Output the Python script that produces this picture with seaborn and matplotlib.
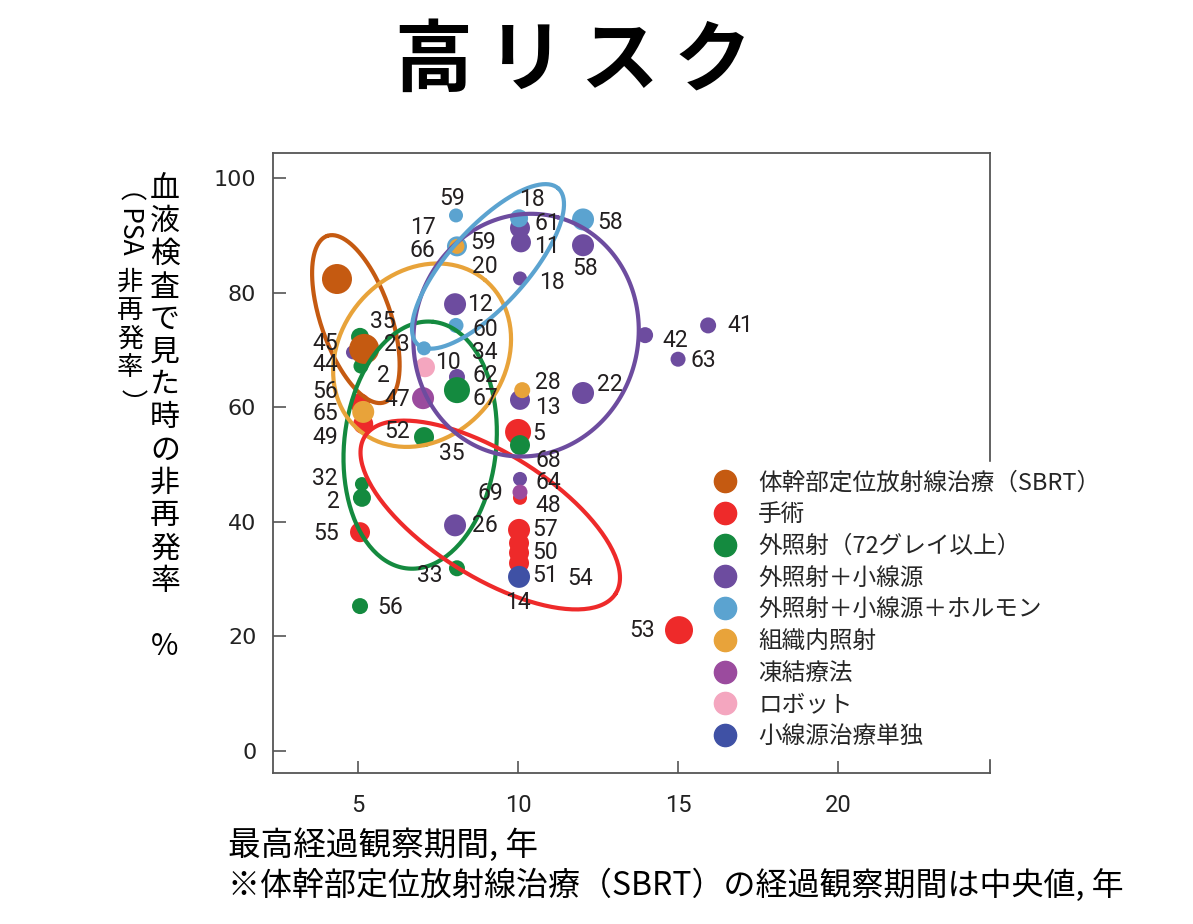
import matplotlib
matplotlib.use("Agg")
import numpy as np
import pandas as pd
import matplotlib.pyplot as plt
import seaborn as sns
from matplotlib.lines import Line2D

# --- data ---
groups = ["体幹部定位放射線治療（SBRT）", "手術", "外照射（72グレイ以上）", "外照射＋小線源",
          "外照射＋小線源＋ホルモン", "組織内照射", "凍結療法", "ロボット", "小線源治療単独"]
group_colors = ["#C55A11", "#EE2A2A", "#148A3F", "#6D4C9F", "#5BA3D0",
                "#E8A33A", "#9B4B9E", "#F4A6BF", "#3F51A5"]

sbrt_x = [4.34, 5.19]
sbrt_y = [82.4, 70.2]
sbrt_dot = [30, 30]

surgery_x = [5.06, 5.16, 5.06, 10.0, 10.06, 10.03, 10.03, 10.03, 10.03, 15.03]
surgery_y = [60.7, 57.1, 38.2, 55.7, 44.2, 38.6, 36.3, 34.6, 32.8, 21.1]
surgery_dot = [20, 20, 20, 26, 14, 22, 20, 20, 20, 28]

ebrt_x = [5.06, 5.09, 8.09, 7.06, 5.12, 5.12, 8.09, 5.06, 10.06]
ebrt_y = [72.3, 67.2, 63.0, 54.8, 46.6, 44.2, 31.9, 25.3, 53.4]
ebrt_dot = [18, 15, 26, 20, 14, 18, 16, 16, 20]

ebrt_bt_x = [4.84, 10.06, 10.09, 12.03, 10.06, 8.03, 8.09, 10.06, 12.03, 13.97, 15.0, 15.94, 8.03, 10.06]
ebrt_bt_y = [69.6, 91.3, 88.8, 88.3, 82.5, 78.0, 65.3, 61.3, 62.5, 72.6, 68.4, 74.3, 39.4, 47.5]
ebrt_bt_dot = [14, 20, 20, 22, 14, 22, 16, 20, 22, 16, 15, 16, 22, 14]

ebrt_bt_adt_x = [8.06, 8.09, 10.03, 12.03, 8.06, 7.06]
ebrt_bt_adt_y = [93.5, 88.1, 93.0, 92.8, 74.3, 70.3]
ebrt_bt_adt_dot = [14, 20, 18, 22, 15, 14]

interstitial_x = [8.09, 5.16, 10.13]
interstitial_y = [88.1, 59.2, 63.0]
interstitial_dot = [15, 22, 16]

cryo_x = [7.03, 10.06]
cryo_y = [61.6, 45.2]
cryo_dot = [22, 15]

robot_x = [7.09]
robot_y = [67.0]
robot_dot = [20]

bt_only_x = [10.03]
bt_only_y = [30.4]
bt_only_dot = [22]

# study numbers written next to the dots
pt_labels = ["59", "17", "66", "59", "20", "18", "61", "11", "58", "58", "18", "12", "60", "34",
             "10", "62", "67", "47", "28", "13", "22", "42", "63", "41", "45", "44", "35", "23",
             "2", "56", "65", "49", "52", "35", "32", "2", "55", "69", "26", "33", "56", "5",
             "68", "64", "48", "57", "50", "51", "54", "14", "53"]
pt_label_x = [7.94, 7.03, 7.0, 8.91, 8.97, 10.44, 10.91, 10.91, 12.88, 12.09, 11.06, 8.81, 8.97, 8.97,
              7.81, 8.97, 8.97, 6.22, 10.94, 10.94, 12.88, 14.91, 15.78, 16.94, 3.97, 3.97, 5.78, 6.22,
              5.78, 3.97, 3.97, 3.97, 6.22, 7.94, 3.97, 4.22, 4.0, 9.13, 8.97, 7.25, 6.0, 10.63,
              10.94, 10.94, 10.94, 10.84, 10.84, 10.84, 11.94, 10.0, 13.88]
pt_label_y = [96.5, 91.4, 87.3, 88.7, 84.6, 96.2, 92.1, 88.0, 92.3, 84.3, 81.8, 78.0, 73.5, 69.6,
              67.9, 65.6, 61.6, 61.3, 64.4, 60.0, 63.9, 71.7, 68.2, 74.3, 71.2, 67.4, 74.9, 70.9,
              65.6, 62.7, 59.0, 54.8, 55.7, 52.0, 47.6, 43.6, 38.0, 45.0, 39.4, 30.7, 25.1, 55.5,
              50.8, 46.9, 42.9, 38.6, 34.7, 30.7, 30.2, 26.0, 21.1]

# group ellipses: centre (data), full axes (px), tilt (deg)
ell_colors = ["#C55A11", "#148A3F", "#E8A33A", "#EE2A2A", "#6D4C9F", "#5BA3D0"]
ell_cx = [4.93, 6.94, 7.0, 9.13, 10.25, 9.06]
ell_cy = [75.4, 53.4, 69.1, 41.2, 72.6, 84.6]
ell_w = [176, 248, 196, 296, 244, 210]
ell_h = [70, 152, 164, 124, 224, 78]
ell_ang = [109, 84, 50, -32, 75, 48]

xs = [sbrt_x, surgery_x, ebrt_x, ebrt_bt_x, ebrt_bt_adt_x, interstitial_x, cryo_x, robot_x, bt_only_x]
ys = [sbrt_y, surgery_y, ebrt_y, ebrt_bt_y, ebrt_bt_adt_y, interstitial_y, cryo_y, robot_y, bt_only_y]
dots = [sbrt_dot, surgery_dot, ebrt_dot, ebrt_bt_dot, ebrt_bt_adt_dot, interstitial_dot,
        cryo_dot, robot_dot, bt_only_dot]
draw_order = [3, 4, 1, 2, 5, 6, 7, 8, 0]

rows = []
for gi in draw_order:
    for x, y, d in zip(xs[gi], ys[gi], dots[gi]):
        rows.append((groups[gi], x, y, d))
df = pd.DataFrame(rows, columns=["group", "years", "rate", "dot"])

# --- style ---
sns.set_style("ticks")
plt.rcParams["font.family"] = ["Noto Sans CJK JP", "DejaVu Sans"]

fig = plt.figure(figsize=(11.93, 9.24), dpi=100)
fig.patch.set_facecolor("white")
ax = fig.add_axes([273 / 1193, 1 - 773 / 924, (990 - 273) / 1193, (773 - 153) / 924])

palette = dict(zip(groups, group_colors))
size_map = {d: (d * 0.72) ** 2 for d in df["dot"].unique()}
sns.scatterplot(data=df, x="years", y="rate", hue="group", palette=palette,
                size="dot", sizes=size_map, linewidth=0, legend=False, ax=ax, zorder=3)

ax.set_xlim(2.34, 24.75)
ax.set_ylim(-3.84, 104.4)
ax.set_xticks([5, 10, 15, 20])
ax.set_yticks([0, 20, 40, 60, 80, 100])
ax.set_xlabel("")
ax.set_ylabel("")
for s in ax.spines.values():
    s.set_visible(True)
    s.set_color("#555555")
    s.set_linewidth(1.3)
ax.tick_params(axis="both", direction="in", length=9, width=1.2, color="#555555")
ax.tick_params(axis="x", pad=15, labelsize=17, labelcolor="#222222")
ax.tick_params(axis="y", pad=12, labelsize=16, labelcolor="#222222")
for t in ax.get_xticklabels():
    t.set_family("Roboto")
for t in ax.get_yticklabels():
    t.set_family("DejaVu Sans")

# --- ellipses (drawn in pixel space so the tilt matches) ---
tt = np.linspace(0, 2 * np.pi, 200)
for c, cx, cy, w, h, a in zip(ell_colors, ell_cx, ell_cy, ell_w, ell_h, ell_ang):
    px, py = ax.transData.transform((cx, cy))
    r = np.deg2rad(a)
    ex = w / 2 * np.cos(tt)
    ey = h / 2 * np.sin(tt)
    dx = px + ex * np.cos(r) - ey * np.sin(r)
    dy = py + ex * np.sin(r) + ey * np.cos(r)
    pts = ax.transData.inverted().transform(np.column_stack([dx, dy]))
    ax.plot(pts[:, 0], pts[:, 1], color=c, lw=3, zorder=4)

# --- study numbers ---
for lab, lx, ly in zip(pt_labels, pt_label_x, pt_label_y):
    ax.text(lx, ly, lab, ha="center", va="center", fontsize=16.5, family="Roboto",
            color="#231F20", zorder=5)

# --- legend ---
handles = [Line2D([0], [0], marker="o", linestyle="", markersize=16,
                  markerfacecolor=c, markeredgecolor=c) for c in group_colors]
leg = ax.legend(handles, groups, loc="upper left", bbox_to_anchor=(704 / 1193, 1 - 462 / 924),
                bbox_transform=fig.transFigure, frameon=True, fontsize=17,
                handlelength=1.0, handletextpad=0.9, borderpad=0.4, labelspacing=0.37,
                borderaxespad=0)
leg.get_frame().set_facecolor("white")
leg.get_frame().set_edgecolor("white")
leg.get_frame().set_alpha(1)
leg.set_zorder(10)

# --- title and axis texts ---
for i, ch in enumerate("高リスク"):
    fig.text((433 + i * 93) / 1193, 1 - 62 / 924, ch, ha="center", va="center",
             fontsize=56, fontweight="bold", color="black")

col1 = "血液検査で見た時の非再発率　%"
for i, ch in enumerate(col1):
    if ch.strip():
        fig.text(165 / 1193, 1 - (189 + i * 32.7) / 924, ch, ha="center", va="center",
                 fontsize=21.5, color="black")

fig.text(130 / 1193, 1 - 174 / 924, "（ PSA", rotation=-90, ha="center", va="top",
         fontsize=19, color="black")
for i, ch in enumerate("非再発率"):
    fig.text(130 / 1193, 1 - (282 + i * 28.5) / 924, ch, ha="center", va="center",
             fontsize=19, color="black")
fig.text(130 / 1193, 1 - 402 / 924, "）", rotation=-90, ha="center", va="center",
         fontsize=19, color="black")

fig.text(228 / 1193, 1 - 845 / 924, "最高経過観察期間, 年", ha="left", va="center",
         fontsize=23.5, color="black")
fig.text(228 / 1193, 1 - 885 / 924, "※体幹部定位放射線治療（SBRT）の経過観察期間は中央値, 年",
         ha="left", va="center", fontsize=23, color="black")

fig.savefig("out.png", dpi=100, facecolor="white")
plt.close(fig)
